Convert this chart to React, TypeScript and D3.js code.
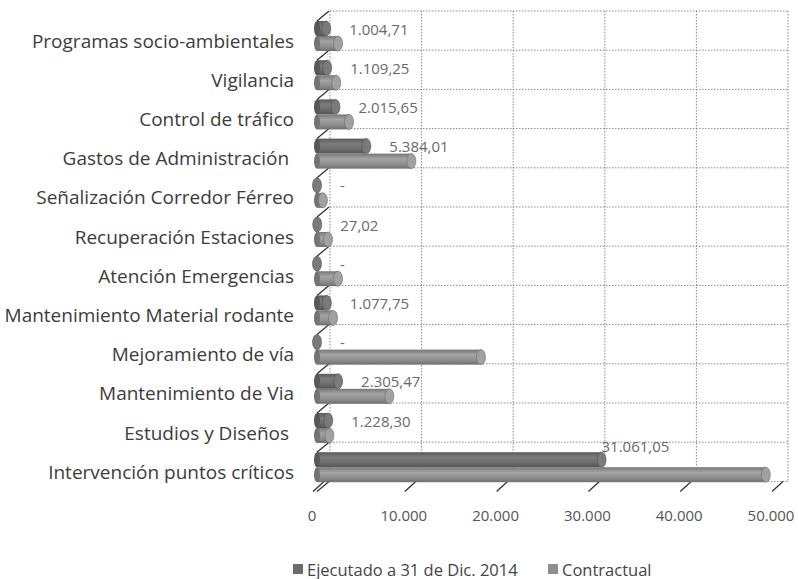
import React from "react";
import * as d3 from "d3";

// Datos del gráfico (valores en millones)
const categories = [
  "Programas socio-ambientales",
  "Vigilancia",
  "Control de tráfico",
  "Gastos de Administración ",
  "Señalización Corredor Férreo",
  "Recuperación Estaciones",
  "Atención Emergencias",
  "Mantenimiento Material rodante",
  "Mejoramiento de vía",
  "Mantenimiento de Via",
  "Estudios y Diseños ",
  "Intervención puntos críticos",
];
const ejecutado = [1004.71, 1109.25, 2015.65, 5384.01, 0, 27.02, 0, 1077.75, 0, 2305.47, 1228.3, 31061.05];
const contractual = [2300, 2100, 3500, 10300, 650, 1200, 2300, 1750, 17900, 7900, 1350, 49000];
const tickValues = [0, 10000, 20000, 30000, 40000, 50000];
const seriesNames = ["Ejecutado a 31 de Dic. 2014", "Contractual"];
const seriesColors = ["#6c6c6c", "#8e8e8e"];

const W = 799;
const H = 579;

const es = d3.formatLocale({ decimal: ",", thousands: ".", grouping: [3], currency: ["", ""] });
const fmtValue = es.format(",.2f");
const fmtTick = es.format(",.0f");

// escalas: pared del fondo, plano frontal y barras a media profundidad
const xBack = d3.scaleLinear().domain([0, 50000]).range([330, 788]);
const xFront = d3.scaleLinear().domain([0, 50000]).range([313, 772]);
const xBar = d3.scaleLinear().domain([0, 50000]).range([317, 775]);
const yRow = d3.scaleBand<string>().domain(categories).range([11, 481.4]);
const ySeries = d3.scaleBand<string>().domain(seriesNames).range([0, 30]);
const DX = 12;
const DY = 10;

function Cylinder({ x0, x1, y, h, color, id }: { x0: number; x1: number; y: number; h: number; color: string; id: string }) {
  const c = d3.color(color)!;
  return (
    <g>
      <rect x={x0} y={y} width={Math.max(0, x1 - x0)} height={h} fill={`url(#${id})`} />
      <ellipse cx={x0} cy={y + h / 2} rx={3} ry={h / 2} fill={c.darker(0.6).toString()} />
      <ellipse cx={x1} cy={y + h / 2} rx={4.5} ry={h / 2} fill={c.brighter(0.35).toString()} stroke={c.darker(0.8).toString()} strokeWidth={0.6} />
    </g>
  );
}

export default function App() {
  const bottom = 481.4;
  const rowLines = [...categories.map((c) => yRow(c)!), bottom];
  const sw = ySeries.bandwidth();

  return (
    <svg width={W} height={H} style={{ display: "block", position: "absolute", left: 0, top: 0, background: "#fff" }}>
      <defs>
        {seriesColors.map((col, i) => {
          const c = d3.color(col)!;
          return (
            <linearGradient key={i} id={`grad${i}`} x1="0" y1="0" x2="0" y2="1">
              <stop offset="0%" stopColor={c.darker(0.5).toString()} />
              <stop offset="35%" stopColor={c.brighter(0.4).toString()} />
              <stop offset="70%" stopColor={col} />
              <stop offset="100%" stopColor={c.darker(0.7).toString()} />
            </linearGradient>
          );
        })}
      </defs>

      {/* pared del fondo: rejilla */}
      <g stroke="#8a8a8a" strokeWidth={1} strokeDasharray="1.5 1.5" fill="none">
        {tickValues.map((t) => (
          <line key={"v" + t} x1={xBack(t)} x2={xBack(t)} y1={11} y2={bottom} />
        ))}
        {rowLines.map((y, i) => (
          <line key={"h" + i} x1={xBack(0)} x2={xBack(50000)} y1={y} y2={y} />
        ))}
      </g>

      {/* pared lateral */}
      <g stroke="#333" strokeWidth={1.3}>
        {rowLines.map((y, i) => (
          <line key={"d" + i} x1={xBack(0) - DX - 1} y1={y + DY} x2={xBack(0) - 1} y2={y} />
        ))}
      </g>

      {/* piso: marcas del eje */}
      <g stroke="#333" strokeWidth={1.3}>
        {tickValues.map((t) => (
          <line key={"t" + t} x1={xFront(t)} y1={bottom + DY} x2={xFront(t) + DX - 1} y2={bottom} />
        ))}
      </g>

      {/* barras cilíndricas */}
      {categories.map((c, i) => {
        const top = yRow(c)! + DY;
        return (
          <g key={c}>
            <Cylinder x0={xBar(0)} x1={xBar(ejecutado[i])} y={top + ySeries(seriesNames[0])!} h={sw} color={seriesColors[0]} id="grad0" />
            <Cylinder x0={xBar(0)} x1={xBar(contractual[i])} y={top + ySeries(seriesNames[1])!} h={sw} color={seriesColors[1]} id="grad1" />
          </g>
        );
      })}

      {/* etiquetas de valor (ejecutado) */}
      <g fontFamily="'Open Sans', sans-serif" fontSize={15} fill="#6a6a6a">
        {categories.map((c, i) => {
          const v = ejecutado[i];
          const barTop = yRow(c)! + DY + ySeries(seriesNames[0])!;
          const long = v > 20000;
          return (
            <text
              key={"l" + c}
              x={long ? xBar(v) : xBar(v) + 23}
              y={long ? barTop - 6 : barTop + sw / 2}
              dominantBaseline="central"
            >
              {v === 0 ? "-" : fmtValue(v)}
            </text>
          );
        })}
      </g>

      {/* categorías */}
      <g fontFamily="'Open Sans', sans-serif" fontSize={19} fill="#3c3c3c" textAnchor="end">
        {categories.map((c) => (
          <text key={"c" + c} x={294} y={yRow(c)! + DY + yRow.bandwidth() / 2} dominantBaseline="central" style={{ whiteSpace: "pre" }}>
            {c}
          </text>
        ))}
      </g>

      {/* eje x */}
      <g fontFamily="'Open Sans', sans-serif" fontSize={15} fill="#555" textAnchor="middle">
        {tickValues.map((t) => (
          <text key={"x" + t} x={xFront(t) - 1} y={515} dominantBaseline="central">
            {fmtTick(t)}
          </text>
        ))}
      </g>

      {/* leyenda */}
      <g fontFamily="'Open Sans', sans-serif" fontSize={16.5} fill="#444">
        <rect x={293} y={564} width={10} height={10} fill={seriesColors[0]} />
        <text x={307} y={569} dominantBaseline="central">{seriesNames[0]}</text>
        <rect x={548} y={564} width={10} height={10} fill={seriesColors[1]} />
        <text x={562} y={569} dominantBaseline="central">{seriesNames[1]}</text>
      </g>
    </svg>
  );
}
